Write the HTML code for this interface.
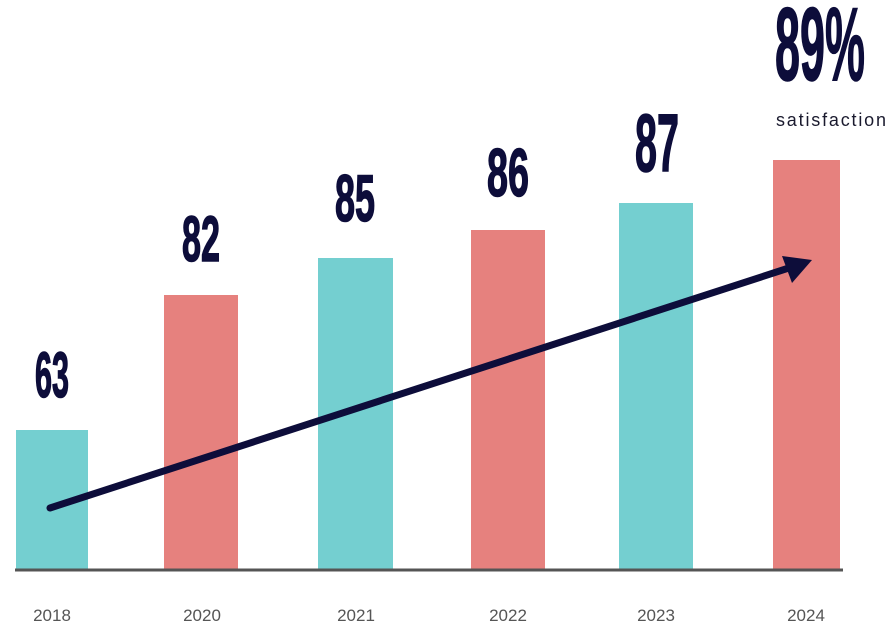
<!DOCTYPE html>
<html><head><meta charset="utf-8"><style>html,body{margin:0;padding:0;background:#fff;}svg{display:block}</style></head>
<body>
<svg width="893" height="640" viewBox="0 0 893 640" xmlns="http://www.w3.org/2000/svg">
<rect width="893" height="640" fill="#fff"/>
<g>
<rect x="16" y="430" width="72" height="140" fill="#74cfd0"/>
<rect x="164" y="295" width="74" height="275" fill="#e6817e"/>
<rect x="318" y="258" width="75" height="312" fill="#74cfd0"/>
<rect x="471" y="230" width="74" height="340" fill="#e6817e"/>
<rect x="619" y="203" width="74" height="367" fill="#74cfd0"/>
<rect x="773" y="160" width="67" height="410" fill="#e6817e"/>
</g>
<line x1="15" y1="570" x2="843" y2="570" stroke="#555" stroke-width="3"/>
<line x1="50" y1="508" x2="795" y2="266" stroke="#0d0d3a" stroke-width="7" stroke-linecap="round"/>
<polygon points="812,260 782,256 792,283" fill="#0d0d3a"/>
<g font-family="Liberation Sans, sans-serif" font-weight="bold" fill="#0d0d3a" stroke="#0d0d3a" stroke-width="1.5" text-anchor="middle">
<text x="52" y="397" font-size="64" textLength="34" lengthAdjust="spacingAndGlyphs">63</text>
<text x="201" y="261" font-size="64" textLength="38" lengthAdjust="spacingAndGlyphs">82</text>
<text x="355" y="221" font-size="66" textLength="40" lengthAdjust="spacingAndGlyphs">85</text>
<text x="508" y="196" font-size="68" textLength="42" lengthAdjust="spacingAndGlyphs">86</text>
<text x="657" y="171" font-size="82" textLength="44" lengthAdjust="spacingAndGlyphs">87</text>
<text x="820" y="80" font-size="104" textLength="90" lengthAdjust="spacingAndGlyphs">89%</text>
</g>
<text x="831" y="126" font-family="Liberation Sans, sans-serif" font-size="18" fill="#1a1a2e" text-anchor="middle" textLength="110" lengthAdjust="spacing">satisfaction</text>
<g font-family="Liberation Sans, sans-serif" font-size="17" fill="#555" text-anchor="middle">
<text x="52" y="621">2018</text>
<text x="202" y="621">2020</text>
<text x="356" y="621">2021</text>
<text x="508" y="621">2022</text>
<text x="656" y="621">2023</text>
<text x="806" y="621">2024</text>
</g>
</svg>
</body></html>
